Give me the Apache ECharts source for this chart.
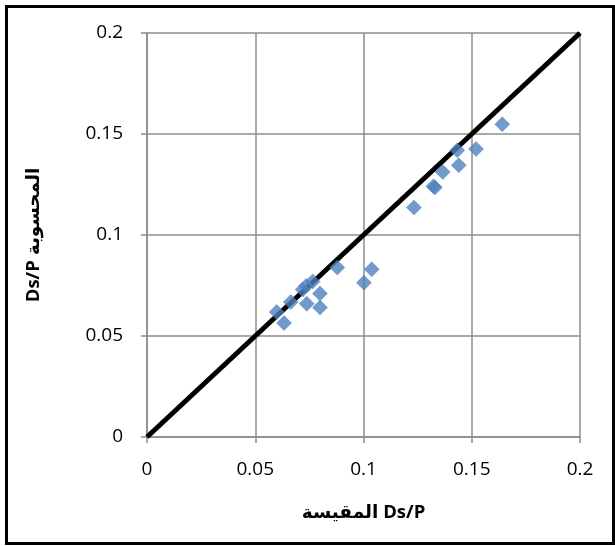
<!DOCTYPE html>
<html>
<head>
<meta charset="utf-8">
<script src="https://cdn.jsdelivr.net/npm/echarts@6/dist/echarts.min.js"></script>
<style>
  html, body { margin: 0; padding: 0; background: #fff; }
  #chart { width: 615px; height: 546px; }
</style>
</head>
<body>
<div id="chart"></div>
<script>
// Measured Ds/P (x) against computed Ds/P (y)
const measured = [0.0599, 0.0633, 0.0664, 0.0719, 0.0738, 0.0765, 0.0735, 0.0799, 0.0799, 0.0879,
                  0.1002, 0.1038, 0.1233, 0.1323, 0.1330, 0.1366, 0.1433, 0.1440, 0.1520, 0.1641];
const computed = [0.0619, 0.0564, 0.0668, 0.0730, 0.0660, 0.0770, 0.0748, 0.0710, 0.0641, 0.0839,
                  0.0764, 0.0830, 0.1136, 0.1241, 0.1235, 0.1312, 0.1419, 0.1345, 0.1426, 0.1548];
// 1:1 reference line end points
const equalityLine = [0, 0.2];

const xName = 'المقيسة Ds/P';
const yName = 'Ds/P المحسوبة';

const points = measured.map((v, i) => [v, computed[i]]);
const diag = equalityLine.map(v => [v, v]);

const gridColor = '#8c8c8c';
const fontFamily = 'Open Sans, Liberation Sans, DejaVu Sans, sans-serif';
const labelFont = { color: '#000', fontSize: 19, fontFamily: fontFamily };
const nameFont = { color: '#000', fontSize: 18.5, fontWeight: 'bold', fontFamily: fontFamily };

const chart = echarts.init(document.getElementById('chart'), null, { renderer: 'canvas' });
chart.setOption({
  animation: false,
  backgroundColor: '#fff',
  graphic: [{
    type: 'rect',
    left: 4, top: 4,
    shape: { width: 607, height: 537 },
    style: { fill: 'none', stroke: '#000', lineWidth: 3 },
    silent: true
  }],
  grid: { left: 147, top: 33, width: 433, height: 404, containLabel: false },
  xAxis: {
    type: 'value', min: 0, max: 0.2, interval: 0.05,
    name: xName, nameLocation: 'middle', nameGap: 66,
    nameTextStyle: nameFont,
    axisLine: { show: true, lineStyle: { color: gridColor, width: 1.5 } },
    axisTick: { show: true, inside: false, length: 6, lineStyle: { color: gridColor, width: 1.5 } },
    axisLabel: Object.assign({ margin: 23 }, labelFont),
    splitLine: { show: true, lineStyle: { color: gridColor, width: 1.5 } }
  },
  yAxis: {
    type: 'value', min: 0, max: 0.2, interval: 0.05,
    name: yName, nameLocation: 'middle', nameGap: 104, nameRotate: 90,
    nameTextStyle: nameFont,
    axisLine: { show: true, lineStyle: { color: gridColor, width: 1.5 } },
    axisTick: { show: true, inside: false, length: 6, lineStyle: { color: gridColor, width: 1.5 } },
    axisLabel: Object.assign({ margin: 24 }, labelFont),
    splitLine: { show: true, lineStyle: { color: gridColor, width: 1.5 } }
  },
  series: [
    {
      type: 'line',
      data: diag,
      showSymbol: false,
      symbol: 'none',
      lineStyle: { color: '#000', width: 5 },
      z: 2
    },
    {
      type: 'scatter',
      data: points,
      symbol: 'diamond',
      symbolSize: 15,
      itemStyle: { color: '#4F81BD', borderColor: '#4A7EBB', borderWidth: 0.5 },
      z: 3
    }
  ]
});
</script>
</body>
</html>
